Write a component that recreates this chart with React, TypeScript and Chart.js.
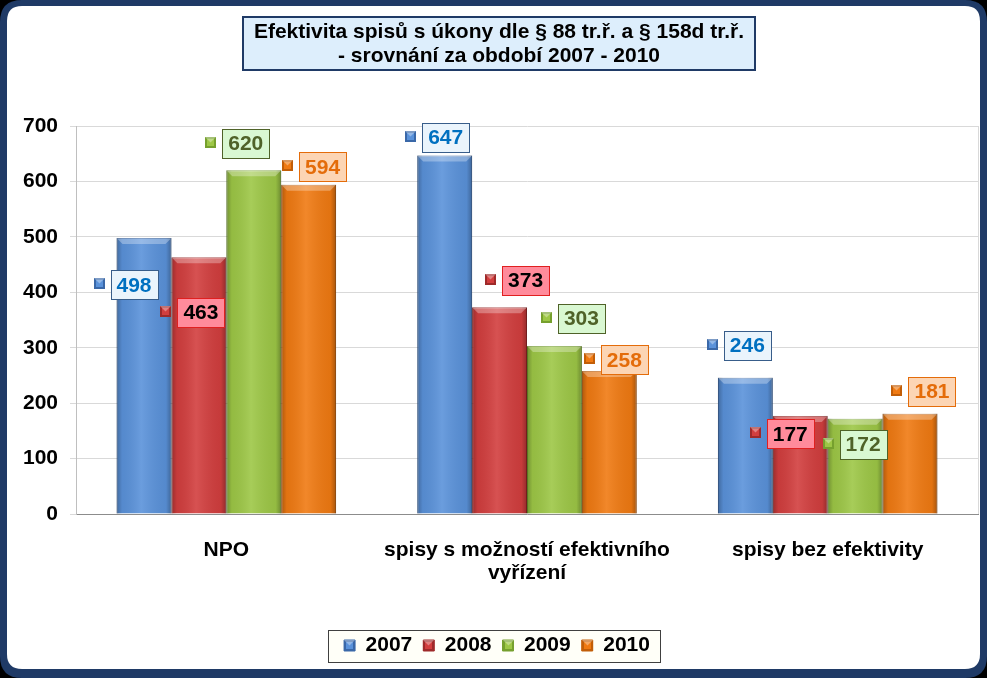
import React, { useEffect, useRef } from "react";
import { Chart, registerables } from "chart.js";

Chart.register(...registerables);

// ---- data ----
const categories: (string | string[])[] = [
  "NPO",
  ["spisy s možností efektivního", "vyřízení"],
  "spisy bez efektivity",
];
const seriesNames = ["2007", "2008", "2009", "2010"];
const values2007 = [498, 647, 246];
const values2008 = [463, 373, 177];
const values2009 = [620, 303, 172];
const values2010 = [594, 258, 181];
const yMax = 700;
const yStep = 100;
const titleLines = [
  "Efektivita spisů s úkony dle § 88 tr.ř. a § 158d tr.ř.",
  "- srovnání za období 2007 - 2010",
];

// ---- styles ----
const FONT = "'Liberation Sans', Arial, sans-serif";
const barFill = ["#5A92DA", "#D23E3E", "#9DC746", "#F07A12"];
const barEdge = ["#3A68A8", "#9E2A2A", "#76A02E", "#C25E08"];
const labelText = ["#0070C0", "#000000", "#4F6228", "#E46C0A"];
const labelBg = ["#EAF4FC", "#FF8B9B", "#D9F8D2", "#FCD5B4"];
const labelBorder = ["#385D8A", "#E02020", "#4F6228", "#E46C0A"];
// label box centre offsets from bar centre / bar top (series x category)
const labelOffsets: [number, number][][] = [
  [[-10, 47], [1, -18], [2, -32]],
  [[2, 55], [26, -27], [-10, 18]],
  [[-8, -27], [27, -28], [8, 26]],
  [[14, -18], [15, -11], [22, -22]],
];

function roundRect(ctx: CanvasRenderingContext2D, x: number, y: number, w: number, h: number, r: number) {
  ctx.beginPath();
  ctx.moveTo(x + r, y);
  ctx.lineTo(x + w - r, y);
  ctx.quadraticCurveTo(x + w, y, x + w, y + r);
  ctx.lineTo(x + w, y + h - r);
  ctx.quadraticCurveTo(x + w, y + h, x + w - r, y + h);
  ctx.lineTo(x + r, y + h);
  ctx.quadraticCurveTo(x, y + h, x, y + h - r);
  ctx.lineTo(x, y + r);
  ctx.quadraticCurveTo(x, y, x + r, y);
  ctx.closePath();
}

function drawMarker(ctx: CanvasRenderingContext2D, cx: number, cy: number, s: number, i: number) {
  const x = Math.round(cx - s / 2), y = Math.round(cy - s / 2);
  ctx.fillStyle = barEdge[i];
  ctx.fillRect(x, y, s, s);
  ctx.fillStyle = barFill[i];
  ctx.fillRect(x + 2, y + 2, s - 4, s - 4);
  ctx.fillStyle = "rgba(255,255,255,0.35)";
  ctx.beginPath();
  ctx.moveTo(x, y);
  ctx.lineTo(x + s, y);
  ctx.lineTo(x + s / 2, y + s / 2);
  ctx.closePath();
  ctx.fill();
}

const decorPlugin = {
  id: "decor",
  beforeDraw(chart: any) {
    const ctx: CanvasRenderingContext2D = chart.ctx;
    const W = chart.width, H = chart.height;
    ctx.save();
    ctx.fillStyle = "#000";
    ctx.fillRect(0, 0, W, H);
    roundRect(ctx, 0, 0, W, H, 22);
    ctx.fillStyle = "#1F3A66";
    ctx.fill();
    roundRect(ctx, 7, 6, W - 14, H - 15, 15);
    ctx.fillStyle = "#FFFFFF";
    ctx.fill();

    // title box
    const tx = 243, ty = 17, tw = 512, th = 53;
    ctx.fillStyle = "#DDEEFC";
    ctx.fillRect(tx, ty, tw, th);
    ctx.strokeStyle = "#1F3A66";
    ctx.lineWidth = 2;
    ctx.strokeRect(tx, ty, tw, th);
    ctx.fillStyle = "#000";
    ctx.font = `bold 21px ${FONT}`;
    ctx.textAlign = "center";
    ctx.textBaseline = "middle";
    ctx.fillText(titleLines[0], tx + tw / 2, 32);
    ctx.fillText(titleLines[1], tx + tw / 2, 56);

    // legend frame
    const lg = chart.legend;
    if (lg && lg.legendHitBoxes && lg.legendHitBoxes.length) {
      const hb = lg.legendHitBoxes;
      const l = Math.round(hb[0].left - 16);
      const r = Math.round(hb[hb.length - 1].left + hb[hb.length - 1].width + 10);
      const cy = Math.round(hb[0].top + hb[0].height / 2);
      ctx.fillStyle = "#FFFFF8";
      ctx.fillRect(l, cy - 16, r - l, 32);
      ctx.strokeStyle = "#404040";
      ctx.lineWidth = 1;
      ctx.strokeRect(l + 0.5, cy - 16 + 0.5, r - l, 32);
    }
    ctx.restore();
  },
  beforeDatasetsDraw(chart: any) {
    const ctx: CanvasRenderingContext2D = chart.ctx;
    const a = chart.chartArea;
    ctx.save();
    ctx.strokeStyle = "#D9D9D9";
    ctx.lineWidth = 1;
    ctx.beginPath();
    ctx.moveTo(Math.round(a.right) + 0.5, a.top);
    ctx.lineTo(Math.round(a.right) + 0.5, a.bottom);
    ctx.stroke();
    ctx.restore();
  },
  afterDatasetsDraw(chart: any) {
    const ctx: CanvasRenderingContext2D = chart.ctx;
    ctx.save();
    // bevel overlay
    chart.data.datasets.forEach((_: any, di: number) => {
      const meta = chart.getDatasetMeta(di);
      meta.data.forEach((bar: any) => {
        const { x, y, base, width } = bar.getProps(["x", "y", "base", "width"], true);
        const l = x - width / 2, r = x + width / 2;
        const g = ctx.createLinearGradient(l, 0, r, 0);
        g.addColorStop(0, "rgba(0,0,0,0.28)");
        g.addColorStop(0.1, "rgba(0,0,0,0.06)");
        g.addColorStop(0.45, "rgba(255,255,255,0.10)");
        g.addColorStop(0.9, "rgba(0,0,0,0.06)");
        g.addColorStop(1, "rgba(0,0,0,0.3)");
        ctx.fillStyle = g;
        ctx.fillRect(l, y, width, base - y);
        ctx.fillStyle = "rgba(255,255,255,0.3)";
        ctx.beginPath();
        ctx.moveTo(l, y);
        ctx.lineTo(r, y);
        ctx.lineTo(r - 6, y + 6);
        ctx.lineTo(l + 6, y + 6);
        ctx.closePath();
        ctx.fill();
      });
    });
    // data labels
    ctx.font = `bold 21px ${FONT}`;
    ctx.textAlign = "center";
    ctx.textBaseline = "middle";
    chart.data.datasets.forEach((ds: any, di: number) => {
      const meta = chart.getDatasetMeta(di);
      meta.data.forEach((bar: any, i: number) => {
        const { x, y } = bar.getProps(["x", "y"], true);
        const [dx, dy] = labelOffsets[di][i];
        const cx = x + dx, cy = y + dy;
        const txt = String(ds.data[i]);
        const w = Math.round(ctx.measureText(txt).width + 12);
        const h = 29;
        const bl = Math.round(cx - w / 2), bt = Math.round(cy - h / 2);
        ctx.fillStyle = labelBg[di];
        ctx.fillRect(bl, bt, w, h);
        ctx.strokeStyle = labelBorder[di];
        ctx.lineWidth = 1;
        ctx.strokeRect(bl + 0.5, bt + 0.5, w, h);
        ctx.fillStyle = labelText[di];
        ctx.fillText(txt, cx, cy + 1);
        drawMarker(ctx, bl - 12, cy - 1, 11, di);
      });
    });
    ctx.restore();
  },
  afterDraw(chart: any) {
    const lg = chart.legend;
    if (!lg || !lg.legendHitBoxes) return;
    const ctx: CanvasRenderingContext2D = chart.ctx;
    ctx.save();
    lg.legendHitBoxes.forEach((hb: any, i: number) => {
      drawMarker(ctx, hb.left + 5.5, hb.top + hb.height / 2, 11, i);
    });
    ctx.restore();
  },
};

export default function App() {
  const ref = useRef<HTMLCanvasElement | null>(null);
  useEffect(() => {
    document.body.style.margin = "0";
    const canvas = ref.current!;
    const seriesValues = [values2007, values2008, values2009, values2010];
    const chart = new Chart(canvas, {
      type: "bar",
      data: {
        labels: categories as any,
        datasets: seriesNames.map((name, i) => ({
          label: name,
          data: seriesValues[i],
          backgroundColor: barFill[i],
          borderColor: barEdge[i],
          borderWidth: 1,
          barPercentage: 1,
          categoryPercentage: 0.73,
        })),
      },
      options: {
        responsive: false,
        animation: false,
        layout: { padding: { top: 126, right: 9, bottom: 12, left: 16 } },
        plugins: {
          title: { display: false },
          tooltip: { enabled: false },
          legend: {
            position: "bottom",
            labels: {
              color: "#000",
              font: { family: FONT, size: 21, weight: "bold" },
              boxWidth: 11,
              boxHeight: 11,
              padding: 11,
            },
          },
        },
        scales: {
          x: {
            grid: { display: false, drawTicks: false },
            border: { display: true, color: "#8C8C8C" },
            ticks: {
              color: "#000",
              padding: 24,
              font: { family: FONT, size: 21, weight: "bold", lineHeight: 1.12 },
              maxRotation: 0,
              autoSkip: false,
            },
            afterFit: (s: any) => {
              s.height = 110;
            },
          },
          y: {
            min: 0,
            max: yMax,
            grid: { color: "#D9D9D9", tickLength: 6 },
            border: { display: true, color: "#BFBFBF" },
            ticks: {
              stepSize: yStep,
              color: "#000",
              padding: 12,
              font: { family: FONT, size: 21, weight: "bold" },
            },
            afterFit: (s: any) => {
              s.width = 60;
            },
          },
        },
      },
      plugins: [decorPlugin],
    } as any);
    return () => chart.destroy();
  }, []);
  return (
    <div style={{ width: 987, height: 678 }}>
      <canvas ref={ref} width={987} height={678} style={{ display: "block" }} />
    </div>
  );
}
